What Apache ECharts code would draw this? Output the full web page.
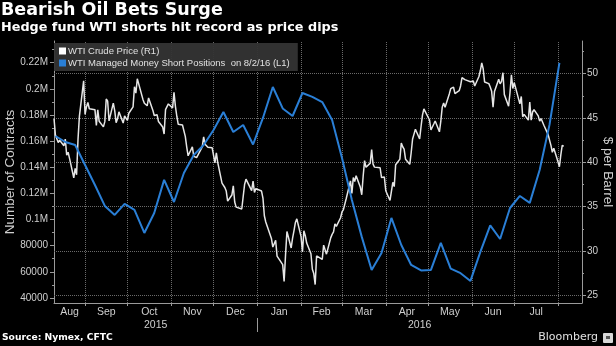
<!DOCTYPE html>
<html><head><meta charset="utf-8">
<script src="https://cdn.jsdelivr.net/npm/echarts@6/dist/echarts.min.js"></script>
<style>html,body{margin:0;padding:0;background:#000;}#c{width:616px;height:346px;}</style>
</head><body><div id="c"></div>
<script>
const priceDates = [
'2015-08-10','2015-08-11','2015-08-12','2015-08-13','2015-08-14','2015-08-17','2015-08-18','2015-08-19','2015-08-20','2015-08-21','2015-08-24','2015-08-25','2015-08-26','2015-08-27','2015-08-28','2015-08-31',
'2015-09-01','2015-09-02','2015-09-03','2015-09-04','2015-09-08','2015-09-09','2015-09-10','2015-09-11','2015-09-14','2015-09-15','2015-09-16','2015-09-17','2015-09-18','2015-09-21','2015-09-22','2015-09-23','2015-09-24','2015-09-25','2015-09-28','2015-09-29','2015-09-30',
'2015-10-01','2015-10-02','2015-10-05','2015-10-06','2015-10-07','2015-10-08','2015-10-09','2015-10-12','2015-10-13','2015-10-14','2015-10-15','2015-10-16','2015-10-19','2015-10-20','2015-10-21','2015-10-22','2015-10-23','2015-10-26','2015-10-27','2015-10-28','2015-10-29','2015-10-30',
'2015-11-02','2015-11-03','2015-11-04','2015-11-05','2015-11-06','2015-11-09','2015-11-10','2015-11-11','2015-11-12','2015-11-13','2015-11-16','2015-11-17','2015-11-18','2015-11-19','2015-11-20','2015-11-23','2015-11-24','2015-11-25','2015-11-27','2015-11-30',
'2015-12-01','2015-12-02','2015-12-03','2015-12-04','2015-12-07','2015-12-08','2015-12-09','2015-12-10','2015-12-11','2015-12-14','2015-12-15','2015-12-16','2015-12-17','2015-12-18','2015-12-21','2015-12-22','2015-12-23','2015-12-24','2015-12-28','2015-12-29','2015-12-30','2015-12-31',
'2016-01-04','2016-01-05','2016-01-06','2016-01-07','2016-01-08','2016-01-11','2016-01-12','2016-01-13','2016-01-14','2016-01-15','2016-01-19','2016-01-20','2016-01-21','2016-01-22','2016-01-25','2016-01-26','2016-01-27','2016-01-28','2016-01-29',
'2016-02-01','2016-02-02','2016-02-03','2016-02-04','2016-02-05','2016-02-08','2016-02-09','2016-02-10','2016-02-11','2016-02-12','2016-02-16','2016-02-17','2016-02-18','2016-02-19','2016-02-22','2016-02-23','2016-02-24','2016-02-25','2016-02-26','2016-02-29',
'2016-03-01','2016-03-02','2016-03-03','2016-03-04','2016-03-07','2016-03-08','2016-03-09','2016-03-10','2016-03-11','2016-03-14','2016-03-15','2016-03-16','2016-03-17','2016-03-18','2016-03-21','2016-03-22','2016-03-23','2016-03-24','2016-03-28','2016-03-29','2016-03-30','2016-03-31',
'2016-04-01','2016-04-04','2016-04-05','2016-04-06','2016-04-07','2016-04-08','2016-04-11','2016-04-12','2016-04-13','2016-04-14','2016-04-15','2016-04-18','2016-04-19','2016-04-20','2016-04-21','2016-04-22','2016-04-25','2016-04-26','2016-04-27','2016-04-28','2016-04-29',
'2016-05-02','2016-05-03','2016-05-04','2016-05-05','2016-05-06','2016-05-09','2016-05-10','2016-05-11','2016-05-12','2016-05-13','2016-05-16','2016-05-17','2016-05-18','2016-05-19','2016-05-20','2016-05-23','2016-05-24','2016-05-25','2016-05-26','2016-05-27','2016-05-31',
'2016-06-01','2016-06-02','2016-06-03','2016-06-06','2016-06-07','2016-06-08','2016-06-09','2016-06-10','2016-06-13','2016-06-14','2016-06-15','2016-06-16','2016-06-17','2016-06-20','2016-06-21','2016-06-22','2016-06-23','2016-06-24','2016-06-27','2016-06-28','2016-06-29','2016-06-30',
'2016-07-01','2016-07-05','2016-07-06','2016-07-07','2016-07-08','2016-07-11','2016-07-12','2016-07-13','2016-07-14','2016-07-15','2016-07-18','2016-07-19','2016-07-20','2016-07-21','2016-07-22','2016-07-25','2016-07-26','2016-07-27','2016-07-28','2016-07-29',
'2016-08-01','2016-08-02','2016-08-03','2016-08-04','2016-08-05'
];
const priceValues = [
44.96,43.08,43.30,42.23,42.50,41.87,42.62,40.80,41.14,40.45,38.24,39.31,38.60,42.56,45.22,49.20,
45.41,46.25,46.75,46.05,45.94,44.15,45.92,44.63,44.00,44.59,47.15,46.90,44.68,46.68,45.83,44.48,44.91,45.70,44.43,45.23,45.09,
44.74,45.54,46.26,48.53,47.81,49.43,49.63,47.10,46.66,46.64,46.38,47.26,45.89,45.29,45.20,45.38,44.60,43.98,43.20,45.94,46.06,46.59,
46.14,47.90,46.32,45.20,44.29,44.21,44.21,42.93,41.75,40.74,41.74,40.67,40.75,40.54,40.39,41.75,42.87,42.04,41.71,41.65,
41.85,39.94,41.08,39.97,37.65,37.51,37.16,36.76,35.62,36.31,37.35,35.52,34.95,34.73,34.74,36.14,37.50,38.10,36.81,37.87,36.60,37.04,
36.76,35.97,33.97,33.27,33.16,31.41,30.44,30.48,31.20,29.42,28.46,26.55,29.53,32.19,30.34,31.45,32.30,33.22,33.62,
31.62,29.88,32.28,31.72,30.89,29.69,27.94,27.45,26.21,29.44,29.04,30.66,30.77,29.64,31.48,31.87,32.15,33.07,32.78,33.75,
34.40,34.66,34.57,35.92,37.90,36.50,38.29,37.84,38.50,37.18,36.34,38.46,40.20,39.44,39.91,41.45,39.79,39.46,39.39,38.28,38.32,38.34,
36.79,35.70,35.89,37.75,37.26,39.72,40.36,42.17,41.76,41.50,40.36,39.78,41.08,42.63,43.18,43.73,42.64,44.04,45.33,46.03,45.92,
44.78,43.65,43.78,44.32,44.66,43.44,44.66,46.23,46.70,46.21,47.72,48.31,48.19,48.49,47.75,48.08,48.62,49.56,49.48,49.33,49.10,
49.01,49.17,48.62,49.69,50.36,51.23,50.56,49.07,48.88,48.49,48.01,46.21,47.98,49.37,48.85,49.13,50.11,47.64,46.33,47.85,49.88,48.33,
48.99,46.60,47.43,45.14,45.41,44.76,46.80,44.75,45.68,45.95,45.24,44.65,44.94,44.75,44.19,43.13,42.92,41.92,41.14,41.60,
40.06,39.51,40.83,41.93,41.80
];
const shortDates = [
'2015-08-11','2015-08-18','2015-08-25','2015-09-01','2015-09-08','2015-09-15','2015-09-22','2015-09-29',
'2015-10-06','2015-10-13','2015-10-20','2015-10-27','2015-11-03','2015-11-10','2015-11-17','2015-11-24',
'2015-12-01','2015-12-08','2015-12-15','2015-12-22','2015-12-29','2016-01-05','2016-01-12','2016-01-19','2016-01-26',
'2016-02-02','2016-02-09','2016-02-16','2016-02-23','2016-03-01','2016-03-08','2016-03-15','2016-03-22','2016-03-29',
'2016-04-05','2016-04-12','2016-04-19','2016-04-26','2016-05-03','2016-05-10','2016-05-17','2016-05-24','2016-05-31',
'2016-06-07','2016-06-14','2016-06-21','2016-06-28','2016-07-05','2016-07-12','2016-07-19','2016-07-26','2016-08-02'
];
const shortValues = [
163900,159300,157000,141700,126400,110400,103500,111900,
107300,89700,105000,130300,113400,135600,149400,157000,
168500,182300,167000,172300,157400,177700,201400,185000,179200,
196800,193800,189900,176200,147100,115000,86700,61400,74400,
101200,80500,65200,61000,61400,82100,62400,58900,53000,
75200,95500,85100,108800,118000,112700,137900,172600,219800
];
const monthStarts = ['2015-09-01','2015-10-01','2015-11-01','2015-12-01','2016-01-01','2016-02-01','2016-03-01','2016-04-01','2016-05-01','2016-06-01','2016-07-01','2016-08-01'];
const monthNames = ['Aug','Sep','Oct','Nov','Dec','Jan','Feb','Mar','Apr','May','Jun','Jul'];
const yearNames = ['2015','2016'];
const yearBreak = '2016-01-01';
const axisStart = '2015-08-10';
const axisEnd = '2016-08-18';
const leftTicks = [40000,60000,80000,100000,120000,140000,160000,180000,200000,220000];
const leftMinorTicks = [50000,70000,90000,110000,130000,150000,170000,190000,210000,230000];
const rightTicks = [25,30,35,40,45,50];
const rightMinorTicks = [27.5,32.5,37.5,42.5,47.5,52.5];
const seriesNames = ['WTI Crude Price (R1)','WTI Managed Money Short Positions  on 8/2/16 (L1)'];

function ts(s){const p=s.split('-').map(Number);return Date.UTC(p[0],p[1]-1,p[2]);}
const xMin = ts(axisStart), xMax = ts(axisEnd);
const bounds = [xMin].concat(monthStarts.map(ts));
const monthMids = monthNames.map((n,i)=>(bounds[i]+bounds[i+1])/2);
const yb = ts(yearBreak);
const yearMids = [(xMin+yb)/2,(yb+xMax)/2];
function nearestIdx(arr,v){let b=0;for(let i=1;i<arr.length;i++){if(Math.abs(arr[i]-v)<Math.abs(arr[b]-v))b=i;}return b;}

const GRID='#6a6a6a', AX='#9a9a9a', TXT='#cfcfcf', FONT='Liberation Sans';
const gridLines = monthStarts.map(d=>({xAxis:ts(d)})).concat(rightTicks.map(v=>({yAxis:v})));
const chart = echarts.init(document.getElementById('c'),null,{renderer:'canvas'});
chart.setOption({
  backgroundColor:'#000',
  animation:false,
  title:{text:'Bearish Oil Bets Surge',subtext:'Hedge fund WTI shorts hit record as price dips',left:1,top:0,padding:[1,0,0,0],itemGap:2,
    textStyle:{color:'#fff',fontFamily:'DejaVu Sans',fontWeight:'bold',fontSize:17.5},
    subtextStyle:{color:'#fff',fontFamily:'DejaVu Sans',fontWeight:'bold',fontSize:12.8}},
  legend:{orient:'vertical',left:54,top:43,padding:[3,8,3,5],itemGap:2,itemWidth:7,itemHeight:7,icon:'rect',
    backgroundColor:'rgba(52,52,52,0.95)',data:seriesNames,z:10,
    textStyle:{color:'#e0e0e0',fontFamily:FONT,fontSize:9.5,padding:[0,0,0,-3]}},
  grid:{left:54,right:34,top:41,bottom:43,containLabel:false,outerBoundsMode:'none'},
  xAxis:[
    {type:'value',min:xMin,max:xMax,position:'bottom',
     axisLine:{show:true,lineStyle:{color:AX,width:1}},
     axisTick:{show:true,length:3,customValues:monthStarts.map(ts),lineStyle:{color:AX}},
     splitLine:{show:false},
     axisLabel:{show:true,customValues:monthMids,margin:4,color:TXT,fontFamily:FONT,fontSize:10.5,
       formatter:v=>monthNames[nearestIdx(monthMids,v)]}},
    {type:'value',min:xMin,max:xMax,position:'bottom',offset:15,
     axisLine:{show:false},
     axisTick:{show:true,length:14,customValues:[yb],lineStyle:{color:AX}},
     splitLine:{show:false},
     axisLabel:{show:true,customValues:yearMids,margin:2,color:TXT,fontFamily:FONT,fontSize:10.5,
       formatter:v=>yearNames[nearestIdx(yearMids,v)]}}
  ],
  yAxis:[
    {type:'value',position:'left',min:36100,max:236600,
     name:'Number of Contracts',nameLocation:'middle',nameGap:37,nameRotate:90,nameMoveOverlap:false,
     nameTextStyle:{color:TXT,fontFamily:FONT,fontSize:13.5},
     axisLine:{show:true,lineStyle:{color:AX}},
     axisTick:{show:true,length:4,customValues:leftTicks,lineStyle:{color:AX}},
     splitLine:{show:false},
     axisLabel:{customValues:leftTicks,margin:6,color:TXT,fontFamily:FONT,fontSize:10,
       formatter:v=>v>=100000?(v/1e6)+'M':String(v)}},
    {type:'value',position:'right',min:24.13,max:53.69,
     name:'$ per Barrel',nameLocation:'middle',nameGap:19,nameRotate:-90,nameMoveOverlap:false,
     nameTextStyle:{color:TXT,fontFamily:FONT,fontSize:13.5},
     axisLine:{show:true,lineStyle:{color:AX}},
     axisTick:{show:true,length:4,customValues:rightTicks,lineStyle:{color:AX}},
     splitLine:{show:false},
     axisLabel:{customValues:rightTicks,margin:5,color:TXT,fontFamily:FONT,fontSize:10}},
    {type:'value',position:'left',min:36100,max:236600,
     axisLine:{show:false},axisLabel:{show:false},splitLine:{show:false},
     axisTick:{show:true,length:2,customValues:leftMinorTicks,lineStyle:{color:AX}}},
    {type:'value',position:'right',min:24.13,max:53.69,
     axisLine:{show:false},axisLabel:{show:false},splitLine:{show:false},
     axisTick:{show:true,length:2,customValues:rightMinorTicks,lineStyle:{color:AX}}}
  ],
  series:[
    {name:seriesNames[0],type:'line',xAxisIndex:0,yAxisIndex:1,showSymbol:false,symbol:'none',z:3,
     data:priceDates.map((d,i)=>[ts(d),priceValues[i]]),
     lineStyle:{color:'#e6e6e6',width:1.5},itemStyle:{color:'#ffffff'},
     markLine:{silent:true,z:1,symbol:['none','none'],label:{show:false},
       lineStyle:{color:GRID,type:'dotted',width:1},data:gridLines}},
    {name:seriesNames[1],type:'line',xAxisIndex:0,yAxisIndex:0,showSymbol:false,symbol:'none',z:4,
     data:shortDates.map((d,i)=>[ts(d),shortValues[i]]),
     lineStyle:{color:'#2a7fd6',width:2},itemStyle:{color:'#2a7fd6'}}
  ],
  graphic:[
    {type:'text',left:2,top:333,style:{text:'Source: Nymex, CFTC',fill:'#fff',font:'bold 9.2px "DejaVu Sans"'}},
    {type:'text',right:18,top:332,style:{text:'Bloomberg',fill:'#e0e0e0',font:'11px "DejaVu Sans"'}},
    {type:'rect',right:3,top:333,shape:{width:10,height:10,r:1},style:{fill:'#d8d8d8'}},
    {type:'rect',right:6,top:336,shape:{width:4,height:3},style:{fill:'#555'}}
  ]
});
</script></body></html>
